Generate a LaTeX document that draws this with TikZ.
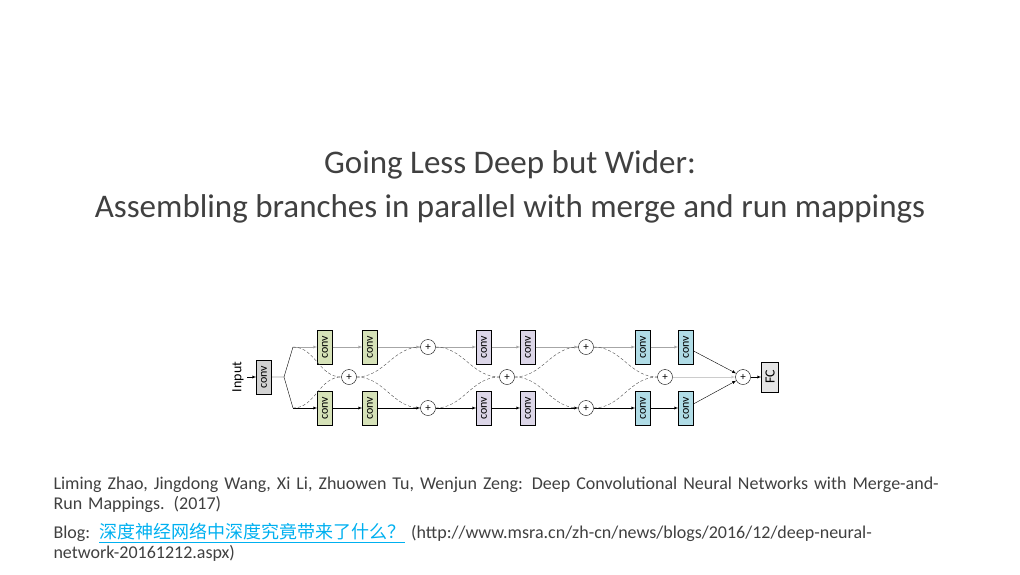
\documentclass[tikz,border=0pt]{standalone}
\usepackage{fontspec}
\setmainfont{Carlito}
\newfontfamily\cjk{Noto Sans CJK SC}
\usetikzlibrary{positioning, arrows}
\tikzset{
>=latex, % small arrow heads
convbox/.style={draw, minimum width=34pt, minimum height=15pt, inner sep=0pt, font=\rmfamily\fontsize{12}{12}\selectfont, rotate=90, anchor=center},
plus/.style={draw, circle, fill=white, minimum size=15pt, inner sep=0pt, font=\fontsize{11}{11}\selectfont},
topline/.style={gray!70, ->},
botline/.style={black, ->},
midline/.style={black!70, densely dashed, thin},
}
\definecolor{cgreen}{RGB}{214,226,184}
\definecolor{cpurple}{RGB}{220,214,232}
\definecolor{cblue}{RGB}{176,220,230}
\begin{document}
\begin{tikzpicture}[x=1pt, y=-1pt]
\useasboundingbox (0,0) rectangle (1020,574);
% title
\node[text=black!75, font=\fontsize{33}{44}\selectfont, align=center] (title) at (510,187)
  {Going Less Deep but Wider:\\Assembling branches in parallel with merge and run mappings};

% network
\node[rotate=90, font=\rmfamily\fontsize{14}{14}\selectfont] (input) at (238,377) {Input};
\node[convbox, fill=gray!35] (c0) at (264,377) {conv};
\coordinate (split) at (284,377);
\coordinate (st) at (293,347);
\coordinate (sb) at (293,408);
\node[convbox, fill=cgreen] (t1) at (325,347) {conv};
\node[convbox, fill=cgreen] (t2) at (370,347) {conv};
\node[convbox, fill=cgreen] (b1) at (325,408) {conv};
\node[convbox, fill=cgreen] (b2) at (370,408) {conv};
\node[plus] (m1) at (349,377) {+};
\node[plus] (pt1) at (428,347) {+};
\node[plus] (pb1) at (428,408) {+};
\node[convbox, fill=cpurple] (t3) at (484,347) {conv};
\node[convbox, fill=cpurple] (t4) at (528,347) {conv};
\node[convbox, fill=cpurple] (b3) at (484,408) {conv};
\node[convbox, fill=cpurple] (b4) at (528,408) {conv};
\node[plus] (m2) at (507,377) {+};
\node[plus] (pt2) at (586,347) {+};
\node[plus] (pb2) at (586,408) {+};
\node[convbox, fill=cblue] (t5) at (643,347) {conv};
\node[convbox, fill=cblue] (t6) at (686,347) {conv};
\node[convbox, fill=cblue] (b5) at (643,408) {conv};
\node[convbox, fill=cblue] (b6) at (686,408) {conv};
\node[plus] (m3) at (665,377) {+};
\node[plus] (fin) at (743,377) {+};
\node[convbox, fill=gray!20, minimum width=30pt, minimum height=17pt, font=\rmfamily\fontsize{14}{14}\selectfont] (fc) at (770,377) {FC};

\draw[->] (input) -- (c0);
\draw (c0) -- (split) -- (st) (split) -- (sb);
\draw[topline] (st) -- (t1);
\draw[botline] (sb) -- (b1);
\draw[topline] (t1) -- (t2);
\draw[botline] (b1) -- (b2);
\draw[topline] (t2) -- (pt1);
\draw[botline] (b2) -- (pb1);
\draw[topline] (pt1) -- (t3);
\draw[botline] (pb1) -- (b3);
\draw[topline] (t3) -- (t4);
\draw[botline] (b3) -- (b4);
\draw[topline] (t4) -- (pt2);
\draw[botline] (b4) -- (pb2);
\draw[topline] (pt2) -- (t5);
\draw[botline] (pb2) -- (b5);
\draw[topline] (t5) -- (t6);
\draw[botline] (b5) -- (b6);
\draw[->, thin] (t6) -- (fin);
\draw[->, thin] (b6) -- (fin);
\draw[->, gray!40] (m3) -- (fin);
\draw[->] (fin) -- (fc);
% merge and run curves
\draw[midline] (st) to[out=0, in=180] (m1);
\draw[midline] (sb) to[out=0, in=180] (m1);
\draw[midline] (m1) to[out=0, in=180] (pt1);
\draw[midline] (m1) to[out=0, in=180] (pb1);
\draw[midline] (pt1) to[out=0, in=180] (m2);
\draw[midline] (pb1) to[out=0, in=180] (m2);
\draw[midline] (m2) to[out=0, in=180] (pt2);
\draw[midline] (m2) to[out=0, in=180] (pb2);
\draw[midline] (pt2) to[out=0, in=180] (m3);
\draw[midline] (pb2) to[out=0, in=180] (m3);

% references
\node[anchor=north west, text=black!75, font=\fontsize{18}{20}\selectfont, align=left, text width=920pt] (ref) at (50,473)
  {Liming Zhao, Jingdong Wang, Xi Li, Zhuowen Tu, Wenjun Zeng: Deep Convolutional Neural Networks with Merge-and-\\Run Mappings. (2017)};
\node[anchor=north west, text=black!75, font=\fontsize{18}{20}\selectfont, align=left, text width=920pt] (blog) at (50,520)
  {Blog: {\color[RGB]{0,176,240}\cjk\underline{深度神经网络中深度究竟带来了什么？}} (http://www.msra.cn/zh-cn/news/blogs/2016/12/deep-neural-\\network-20161212.aspx)};
\end{tikzpicture}
\end{document}
